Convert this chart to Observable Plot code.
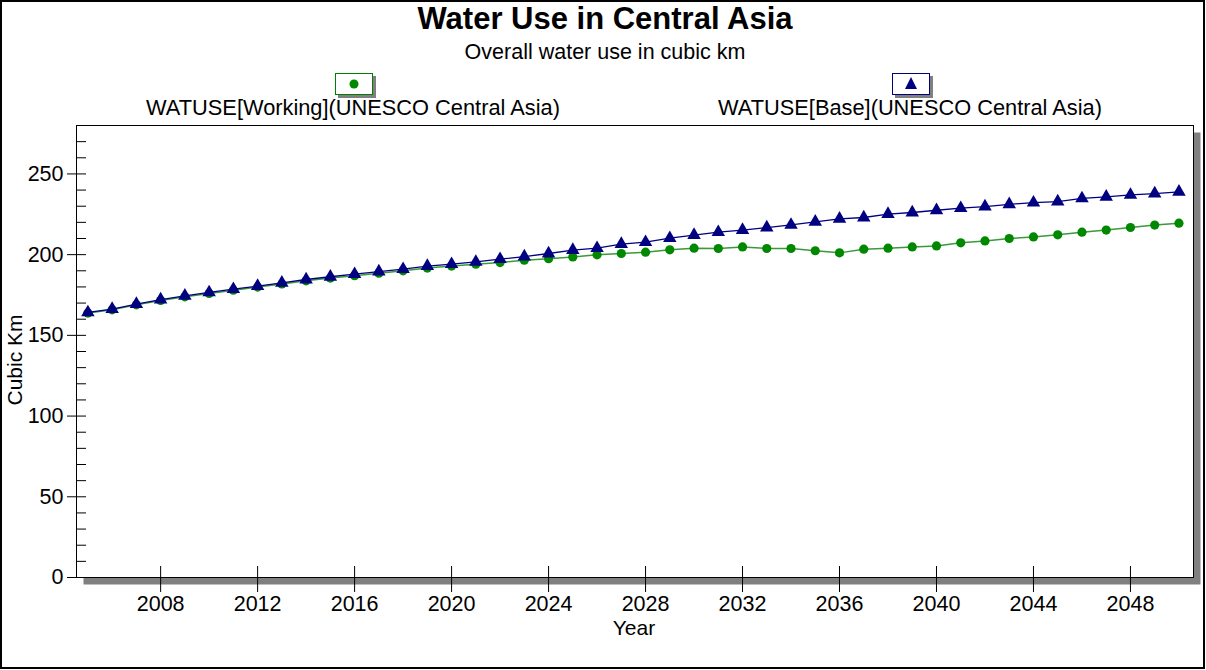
<!DOCTYPE html>
<html>
<head>
<meta charset="utf-8">
<script src="https://cdn.jsdelivr.net/npm/d3@7"></script>
<script src="https://cdn.jsdelivr.net/npm/@observablehq/plot@0.6"></script>
<style>
  body { margin: 0; background: #fff; }
  #wrap { position: relative; width: 1206px; height: 670px; font-family: Arial, "Liberation Sans", sans-serif; color: #000; overflow: hidden; }
  #chart { position: absolute; left: 0; top: 0; }
  .txt { position: absolute; text-align: center; white-space: nowrap; }
  .legbox { position: absolute; }
  #border { position: absolute; left: 0; top: 0; width: 1205px; height: 669px; border: 2px solid #000; box-sizing: border-box; pointer-events: none; }
</style>
</head>
<body>
<div id="wrap">
  <div id="chart"></div>
  <div class="txt" style="left:0;width:1210px;top:2px;line-height:34px;font-size:31px;font-weight:bold;">Water Use in Central Asia</div>
  <div class="txt" style="left:0;width:1210px;top:41px;line-height:22px;font-size:21.5px;">Overall water use in cubic km</div>
  <svg class="legbox" style="left:334px;top:72px" width="44" height="28">
    <rect x="4" y="4" width="38" height="22" fill="#808080"></rect>
    <rect x="1.5" y="1.5" width="37" height="21" fill="#fff" stroke="#008000" stroke-width="1"></rect>
    <circle cx="20" cy="12" r="4.5" fill="#008800"></circle>
  </svg>
  <div class="txt" style="left:53px;width:600px;top:97px;line-height:22px;font-size:21.8px;">WATUSE[Working](UNESCO Central Asia)</div>
  <svg class="legbox" style="left:891px;top:72px" width="44" height="28">
    <rect x="4" y="4" width="38" height="22" fill="#808080"></rect>
    <rect x="1.5" y="1.5" width="37" height="21" fill="#fff" stroke="#000080" stroke-width="1"></rect>
    <path d="M20,5 L26,17 L14,17 Z" fill="#000080"></path>
  </svg>
  <div class="txt" style="left:610px;width:600px;top:97px;line-height:22px;font-size:21.8px;">WATUSE[Base](UNESCO Central Asia)</div>
  <div class="txt" style="left:534px;width:200px;top:617px;line-height:22px;font-size:21px;">Year</div>
  <div class="txt" style="left:-85px;width:200px;top:349px;line-height:22px;font-size:21px;transform:rotate(-90deg);">Cubic Km</div>
  <div id="border"></div>
</div>
<script>
const years = [2005,2006,2007,2008,2009,2010,2011,2012,2013,2014,2015,2016,2017,2018,2019,2020,
  2021,2022,2023,2024,2025,2026,2027,2028,2029,2030,2031,2032,2033,2034,2035,2036,
  2037,2038,2039,2040,2041,2042,2043,2044,2045,2046,2047,2048,2049,2050];

const workingValues = [163.8,165.8,168.9,171.6,173.9,176.0,178.0,179.9,181.8,183.8,185.5,187.0,188.5,190.0,191.7,192.9,
  194.1,195.1,196.6,197.5,198.6,199.9,200.7,201.5,203.0,204.0,203.8,204.8,203.8,203.8,202.4,201.1,
  203.4,204.0,204.8,205.4,207.3,208.5,210.0,211.0,212.3,213.9,215.2,216.8,218.3,219.5];

const baseValues = [164.2,166.3,169.4,172.2,174.5,176.6,178.6,180.5,182.5,184.6,186.3,187.9,189.5,191.0,192.9,194.1,
  195.5,197.2,198.8,200.7,202.8,204.0,206.5,207.7,210.2,212.1,213.9,215.2,216.8,218.4,220.3,222.2,
  223.0,225.1,226.1,227.5,228.8,229.8,231.2,232.2,232.9,234.8,235.8,237.0,237.8,238.9];

const xTicks = [2008,2012,2016,2020,2024,2028,2032,2036,2040,2044,2048];
const yTicks = [0,50,100,150,200,250];
const yMinorTicks = [0,10,20,30,40,50,60,70,80,90,100,110,120,130,140,150,160,170,180,190,200,210,220,230,240,250,260,270];

const working = years.map((year, i) => ({year, value: workingValues[i]}));
const base = years.map((year, i) => ({year, value: baseValues[i]}));

const plot = Plot.plot({
  width: 1206,
  height: 670,
  marginLeft: 76,
  marginRight: 13,
  marginTop: 125,
  marginBottom: 93,
  style: {fontFamily: "Arial, 'Liberation Sans', sans-serif", fontSize: "21.5px", color: "#000", background: "transparent"},
  x: {domain: [2004.53, 2050.6]},
  y: {domain: [0, 280]},
  marks: [
    Plot.frame({fill: "#808080", stroke: null, dx: 7, dy: 7}),
    Plot.frame({fill: "white", stroke: null}),
    Plot.ruleY(yMinorTicks, {stroke: "#000", insetRight: 1107}),
    Plot.ruleX(xTicks, {stroke: "#000", insetTop: 441}),
    Plot.axisX({ticks: xTicks, tickFormat: d => String(d), tickSize: 15, tickPadding: 3, label: null}),
    Plot.axisY({ticks: yTicks, tickSize: 9, tickPadding: 4, label: null}),
    Plot.line(working, {x: "year", y: "value", stroke: "#3a9a3a", strokeWidth: 1.5}),
    Plot.dot(working, {x: "year", y: "value", r: 4.6, fill: "#008800", stroke: null, symbol: "circle"}),
    Plot.line(base, {x: "year", y: "value", stroke: "#000080", strokeWidth: 1.3}),
    Plot.dot(base, {x: "year", y: "value", r: 5, fill: "#000080", stroke: null, symbol: "triangle"}),
    Plot.frame({stroke: "#000", strokeWidth: 1})
  ]
});
document.getElementById("chart").appendChild(plot);
</script>
</body>
</html>
